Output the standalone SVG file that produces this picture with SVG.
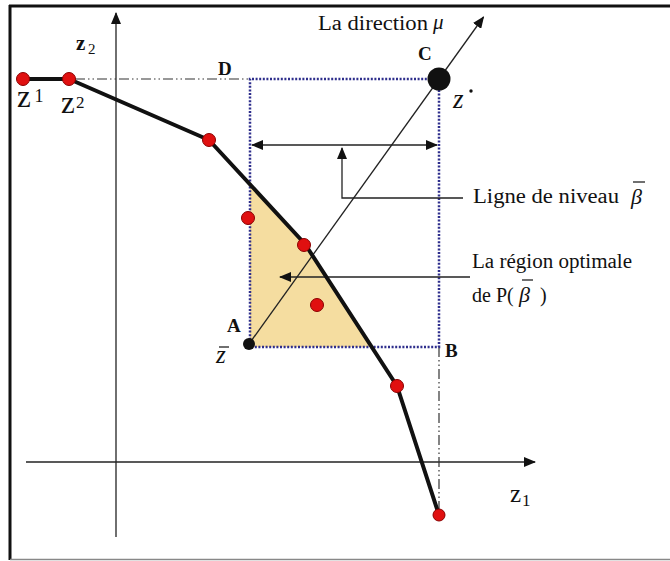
<svg xmlns="http://www.w3.org/2000/svg" width="670" height="561" viewBox="0 0 670 561">
<style>
text{font-family:"Liberation Serif","DejaVu Serif","Times New Roman",serif;fill:#111}
.b{font-weight:bold}
.i{font-style:italic}
.thin{stroke:#222;stroke-width:1.3;fill:none}
.dotr{stroke:#2E2E8C;stroke-width:2.5;stroke-dasharray:2 1.6;fill:none}
.dashd{stroke:#333;stroke-width:1.2;stroke-dasharray:10 3 1.5 3 1.5 3;fill:none}
.red{fill:#E01010;stroke:#8B0000;stroke-width:1}
</style>
<defs>
<marker id="ah" markerWidth="12" markerHeight="10" refX="11" refY="5" orient="auto" markerUnits="userSpaceOnUse">
<path d="M0,0 L12,5 L0,10 Z" fill="#111"/>
</marker>
<marker id="ahs" markerWidth="12" markerHeight="10" refX="1" refY="5" orient="auto" markerUnits="userSpaceOnUse">
<path d="M12,0 L0,5 L12,10 Z" fill="#111"/>
</marker>
</defs>
<rect width="670" height="561" fill="#fff"/>
<g id="frame">
<line x1="9" y1="6" x2="670" y2="6" stroke="#111" stroke-width="3"/>
<line x1="10" y1="5" x2="10" y2="560" stroke="#111" stroke-width="3"/>
<line x1="10" y1="559.5" x2="670" y2="559.5" stroke="#888" stroke-width="1.5"/>
</g>
<g id="region">
<polygon points="250,184 305,244 372,347 250,347" fill="#F5DDA0"/>
</g>
<g id="connectors">
<line class="thin" x1="116" y1="537" x2="116" y2="13" marker-end="url(#ah)"/>
<line class="thin" x1="26" y1="462" x2="535" y2="462" marker-end="url(#ah)"/>
<line class="dashd" x1="75" y1="79" x2="250" y2="79"/>
<line class="dashd" x1="439" y1="347" x2="439" y2="512"/>
<polyline class="dotr" points="250,347 250,79 439,79 439,347 250,347"/>
<line class="thin" x1="249" y1="344" x2="483.5" y2="17" marker-end="url(#ah)"/>
<line class="thin" x1="252" y1="145" x2="437" y2="145" marker-start="url(#ahs)" marker-end="url(#ah)"/>
<polyline class="thin" points="463,198 342,198 342,148" marker-end="url(#ah)"/>
<line class="thin" x1="470" y1="277" x2="280" y2="277" marker-end="url(#ah)"/>
<polyline points="23,79 69,79 209,140 305,244 397,386 439,515" fill="none" stroke="#111" stroke-width="4" stroke-linejoin="round"/>
</g>
<g id="z1"><circle class="red" cx="23" cy="79" r="6.5"/>
<text x="17" y="107" font-size="31">z</text><text x="34.5" y="102" font-size="18">1</text></g>
<g id="z2"><circle class="red" cx="69" cy="79" r="6.5"/>
<text x="61" y="113" font-size="31">z</text><text x="76" y="108" font-size="17">2</text></g>
<g id="p3"><circle class="red" cx="209" cy="140" r="6.5"/></g>
<g id="p4"><circle class="red" cx="248" cy="218" r="6.5"/></g>
<g id="p5"><circle class="red" cx="304" cy="245" r="6.5"/></g>
<g id="p6"><circle class="red" cx="317" cy="305" r="6.5"/></g>
<g id="p7"><circle class="red" cx="397" cy="386" r="6.5"/></g>
<g id="p8"><circle class="red" cx="439" cy="515" r="6"/></g>
<g id="A"><circle cx="249" cy="344" r="6" fill="#111"/>
<text class="b" x="227" y="332" font-size="19">A</text>
<text class="i" x="216" y="363" font-size="25">z</text>
<line x1="219" y1="347" x2="229" y2="347" stroke="#111" stroke-width="1.2"/></g>
<g id="B"><text class="b" x="445" y="357" font-size="19">B</text></g>
<g id="C"><circle cx="439" cy="79" r="11.5" fill="#111"/>
<text class="b" x="418" y="60" font-size="19">C</text>
<text class="i" x="453" y="108" font-size="27">z</text>
<circle cx="471" cy="91" r="1.7" fill="#111"/></g>
<g id="D"><text class="b" x="218" y="75" font-size="19">D</text></g>
<g id="axis-labels">
<text class="b" x="76" y="50" font-size="21">z</text><text x="88" y="54" font-size="15">2</text>
<text x="510" y="502" font-size="25">z</text><text x="522" y="506" font-size="17">1</text>
</g>
<g id="direction"><text x="318" y="30" font-size="20" textLength="110" lengthAdjust="spacingAndGlyphs">La direction</text>
<text class="i" x="433" y="29" font-size="21">μ</text></g>
<g id="niveau"><text x="473" y="203" font-size="20" textLength="146" lengthAdjust="spacingAndGlyphs">Ligne de niveau</text>
<text class="i" x="631" y="204" font-size="22">β</text>
<line x1="633" y1="182" x2="645" y2="182" stroke="#111" stroke-width="1.2"/></g>
<g id="optimale"><text x="472" y="268" font-size="20" textLength="160" lengthAdjust="spacingAndGlyphs">La région optimale</text>
<text x="472" y="302" font-size="20">de P(</text>
<text class="i" x="519" y="302" font-size="22">β</text>
<line x1="522" y1="280" x2="533" y2="280" stroke="#111" stroke-width="1.2"/>
<text x="540" y="302" font-size="20">)</text></g>
</svg>
